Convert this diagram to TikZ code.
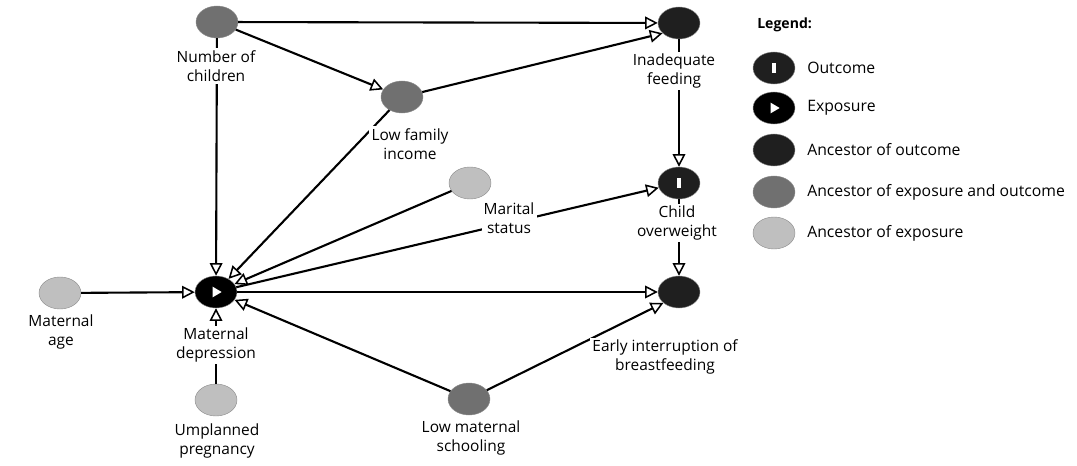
\documentclass[tikz,border=0pt]{standalone}
\usepackage{fontspec}
\setmainfont{Open Sans}
\usetikzlibrary{arrows.meta,shapes.geometric}

\tikzset{
  dagnode/.style={ellipse, minimum width=1.05cm, minimum height=0.8cm, inner sep=0pt, draw=black!45, line width=0.3pt},
  ancout/.style={dagnode, fill=black!88},
  ancboth/.style={dagnode, fill=black!56},
  ancexp/.style={dagnode, fill=black!25},
  outnode/.style={ancout, path picture={\fill[white] ([xshift=-1.6pt,yshift=-3.8pt]path picture bounding box.center) rectangle ++(3.2pt,7.6pt);}},
  expnode/.style={dagnode, fill=black, path picture={\fill[white] ([xshift=-2.4pt,yshift=-3.8pt]path picture bounding box.center) -- ++(0,7.6pt) -- ++(6.4pt,-3.8pt) -- cycle;}},
  lbl/.style={fill=white, align=center, inner sep=1.5pt, font=\fontsize{11}{13.5}\selectfont},
  legtext/.style={anchor=west, inner sep=0pt, font=\fontsize{11.2}{13.5}\selectfont},
  link/.style={line width=1.5pt, -{Triangle[open,fill=white,length=9pt,width=9pt,line width=1.1pt]}},
}

\begin{document}
\begin{tikzpicture}[x=0.025cm,y=-0.025cm]
  \useasboundingbox (0,0) rectangle (1077,466);
  % Variables
  \node[ancboth] (nchild) at (217,22) {};
  \node[ancout] (feeding) at (679,23) {};
  \node[ancboth] (income) at (402,97) {};
  \node[ancexp] (marital) at (470,183) {};
  \node[outnode] (overweight) at (679,183) {};
  \node[expnode] (depress) at (216,292) {};
  \node[ancexp] (matage) at (60,293) {};
  \node[ancout] (early) at (679,292) {};
  \node[ancexp] (unplanned) at (216,400) {};
  \node[ancboth] (school) at (469,399) {};

  % Arrows
  \draw[link] (nchild) -- (feeding);
  \draw[link] (nchild) -- (income);
  \draw[link] (nchild) -- (depress);
  \draw[link] (income) -- (feeding.212);
  \draw[link] (income) -- (depress);
  \draw[link] (feeding) -- (overweight);
  \draw[link] (marital) -- (depress);
  \draw[link] (depress) -- (overweight);
  \draw[link] (depress) -- (early);
  \draw[link] (overweight) -- (early);
  \draw[link] (matage) -- (depress);
  \draw[link] (unplanned) -- (depress);
  \draw[link] (school) -- (depress);
  \draw[link] (school) -- (early.215);

  % Labels (drawn over the arrows)
  \node[lbl] (nchild-l) at (216,66) {Number of\\children};
  \node[lbl] (feeding-l) at (674,71) {Inadequate\\feeding};
  \node[lbl] (income-l) at (410,144) {Low family\\income};
  \node[lbl] (marital-l) at (509,218) {Marital\\status};
  \node[lbl] (overweight-l) at (677,223) {Child\\overweight};
  \node[lbl] (depress-l) at (216,345) {Maternal\\depression};
  \node[lbl] (matage-l) at (61,332) {Maternal\\age};
  \node[lbl] (early-l) at (665,357) {Early interruption of\\breastfeeding};
  \node[lbl] (unplanned-l) at (217,441) {Umplanned\\pregnancy};
  \node[lbl] (school-l) at (471,438) {Low maternal\\schooling};

  % Legend
  \node[legtext, font=\fontsize{10}{12}\selectfont\bfseries] (legend) at (757,25) {Legend:};
  \node[outnode] (leg1) at (774,68) {};
  \node[legtext] (leg1-t) at (807,68) {Outcome};
  \node[expnode] (leg2) at (774,108) {};
  \node[legtext] (leg2-t) at (807,108) {Exposure};
  \node[ancout] (leg3) at (774,150) {};
  \node[legtext] (leg3-t) at (807,150) {Ancestor of outcome};
  \node[ancboth] (leg4) at (774,192) {};
  \node[legtext] (leg4-t) at (807,192) {Ancestor of exposure and outcome};
  \node[ancexp] (leg5) at (774,233) {};
  \node[legtext] (leg5-t) at (807,233) {Ancestor of exposure};
\end{tikzpicture}
\end{document}
